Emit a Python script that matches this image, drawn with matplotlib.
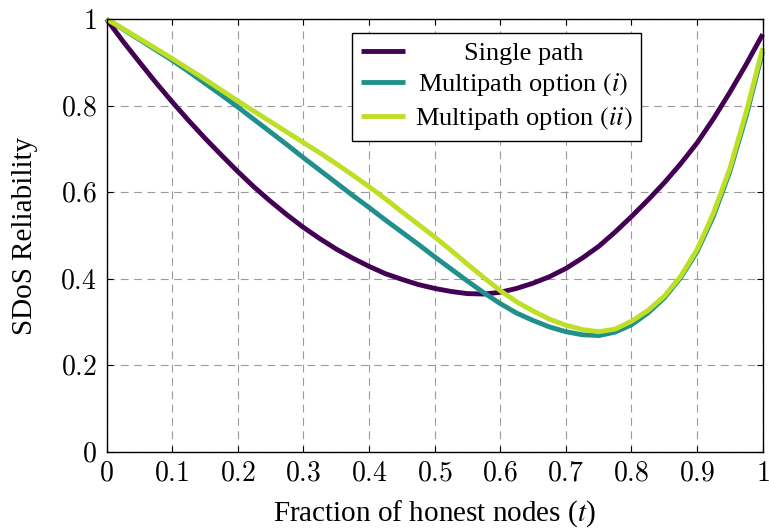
import matplotlib
matplotlib.use("Agg")
import matplotlib.pyplot as plt
from matplotlib.font_manager import FontProperties

# fraction of honest nodes t
t = [0.0, 0.025, 0.05, 0.075, 0.1, 0.125, 0.15, 0.175, 0.2, 0.225, 0.25,
     0.275, 0.3, 0.325, 0.35, 0.375, 0.4, 0.425, 0.45, 0.475, 0.5, 0.525,
     0.55, 0.575, 0.6, 0.625, 0.65, 0.675, 0.7, 0.725, 0.75, 0.775, 0.8,
     0.825, 0.85, 0.875, 0.9, 0.925, 0.95, 0.975, 1.0]

single_path = [1.000, 0.949, 0.901, 0.854, 0.809, 0.766, 0.725, 0.686, 0.648,
               0.612, 0.579, 0.548, 0.519, 0.493, 0.469, 0.448, 0.429, 0.412,
               0.399, 0.387, 0.378, 0.371, 0.366, 0.365, 0.369, 0.378, 0.390,
               0.405, 0.424, 0.448, 0.475, 0.508, 0.544, 0.582, 0.622, 0.666,
               0.714, 0.770, 0.831, 0.896, 0.965]

multipath_i = [1.000, 0.977, 0.953, 0.929, 0.905, 0.879, 0.852, 0.825, 0.797,
               0.768, 0.739, 0.710, 0.680, 0.651, 0.622, 0.593, 0.565, 0.536,
               0.508, 0.480, 0.451, 0.423, 0.395, 0.368, 0.343, 0.321, 0.304,
               0.289, 0.278, 0.271, 0.269, 0.277, 0.294, 0.321, 0.356, 0.403,
               0.463, 0.545, 0.648, 0.777, 0.925]

multipath_ii = [1.000, 0.978, 0.955, 0.932, 0.909, 0.885, 0.861, 0.836, 0.811,
                0.787, 0.763, 0.739, 0.715, 0.691, 0.666, 0.640, 0.613, 0.585,
                0.555, 0.526, 0.497, 0.466, 0.434, 0.403, 0.373, 0.347, 0.326,
                0.307, 0.293, 0.283, 0.278, 0.284, 0.302, 0.327, 0.360, 0.406,
                0.468, 0.552, 0.655, 0.786, 0.933]

x_ticks = [0, 0.1, 0.2, 0.3, 0.4, 0.5, 0.6, 0.7, 0.8, 0.9, 1]
x_labels = ["$0$", "$0.1$", "$0.2$", "$0.3$", "$0.4$", "$0.5$", "$0.6$",
            "$0.7$", "$0.8$", "$0.9$", "$1$"]
y_ticks = [0, 0.2, 0.4, 0.6, 0.8, 1]
y_labels = ["$0$", "$0.2$", "$0.4$", "$0.6$", "$0.8$", "$1$"]

names = ["Single path", r"Multipath option $\mathit{(i)}$",
         r"Multipath option $\mathit{(ii)}$"]
colors = ["#440154", "#21908d", "#bddf26"]

plt.rcParams["font.family"] = ["Liberation Serif", "DejaVu Serif"]
plt.rcParams["mathtext.fontset"] = "cm"

fig = plt.figure(figsize=(7.69, 5.28), dpi=100)
ax = fig.add_axes([0.1385, 0.1438, 0.8533, 0.82])

for ys, name, c in zip([single_path, multipath_i, multipath_ii], names, colors):
    ax.plot(t, ys, color=c, lw=3.5, label=name, solid_capstyle="butt",
            clip_on=False, zorder=3)

ax.set_xlim(0, 1)
ax.set_ylim(0, 1)
ax.set_xticks(x_ticks)
ax.set_xticklabels(x_labels, fontsize=20)
ax.set_yticks(y_ticks)
ax.set_yticklabels(y_labels, fontsize=20)
ax.tick_params(direction="in", top=True, right=True, length=4, width=0.8,
               pad=7)

ax.set_axisbelow(True)
ax.grid(True, color="#9a9a9a", lw=0.8, linestyle=(0, (7, 5)))
for s in ax.spines.values():
    s.set_linewidth(1.0)
    s.set_zorder(4)

ax.set_xlabel("Fraction of honest nodes ($t$)", fontsize=21,
              math_fontfamily="stix", labelpad=8)
ax.set_ylabel("SDoS Reliability", fontsize=21, labelpad=16)

leg = ax.legend(loc="upper left", bbox_to_anchor=(0.374, 0.968),
                borderaxespad=0, fancybox=False, edgecolor="black",
                framealpha=1, handlelength=1.7, handletextpad=0.35,
                labelspacing=0.24, borderpad=0.33,
                prop=FontProperties(family="Liberation Serif", size=19,
                                    math_fontfamily="stix"))
leg.get_frame().set_linewidth(1.0)
leg.set_zorder(5)

# center the entry texts inside the legend column
fig.canvas.draw()
texts = leg.get_texts()
widths = [tx.get_window_extent().width for tx in texts]
for tx, w in zip(texts, widths):
    tx.set_position(((max(widths) - w) / 2, 0))

fig.savefig("out.png", dpi=100)
